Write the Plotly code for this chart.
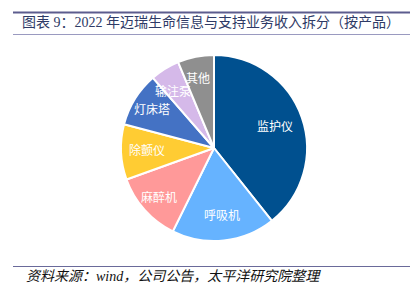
import math
import plotly.graph_objects as go

categories = ["监护仪", "呼吸机", "麻醉机", "除颤仪", "灯床塔", "输注泵", "其他"]
values = [39.3, 18.0, 12.2, 9.6, 9.5, 5.1, 6.3]
colors = ["#00508F", "#66B3FF", "#FF9999", "#FFCC33", "#4472C4", "#D5B9E9", "#8F8F8F"]
title_text = "图表 9：2022 年迈瑞生命信息与支持业务收入拆分（按产品）"
source_text = "资料来源：wind，公司公告，太平洋研究院整理"

W, H = 416, 297
cx, cy, R = 214, 148, 93
label_r = [0.70, 0.83, 0.80, 0.72, 0.78, 0.84, 0.86]

FONT = "Liberation Serif, Noto Sans CJK SC, serif"

fig = go.Figure(go.Pie(
    labels=categories, values=values, sort=False, direction="clockwise",
    rotation=0, marker=dict(colors=colors, line=dict(color="white", width=2)),
    textinfo="none", hoverinfo="label+percent", showlegend=False,
    domain=dict(x=[(cx - R) / W, (cx + R) / W], y=[(H - cy - R) / H, (H - cy + R) / H]),
))

total = sum(values)
acc = 0.0
annotations = []
for name, v, lr in zip(categories, values, label_r):
    mid = (acc + v / 2) / total * 2 * math.pi
    acc += v
    px = cx + lr * R * math.sin(mid)
    py = cy - lr * R * math.cos(mid)
    annotations.append(dict(x=px / W, y=1 - py / H, xref="paper", yref="paper",
                            text=name, showarrow=False,
                            font=dict(family=FONT, size=12, color="white")))

annotations.append(dict(x=211 / W, y=1 - 22 / H, xref="paper", yref="paper", xanchor="center",
                        yanchor="middle", text=title_text, showarrow=False,
                        font=dict(family=FONT, size=14, color="#2E3A66")))
annotations.append(dict(x=24 / W, y=1 - 276 / H, xref="paper", yref="paper", xanchor="left",
                        yanchor="middle", text=source_text, showarrow=False,
                        font=dict(family=FONT, size=14, color="#111111", style="italic")))

shapes = [
    dict(type="line", xref="paper", yref="paper", x0=13 / W, x1=410 / W, y0=1 - 12.5 / H, y1=1 - 12.5 / H,
         line=dict(color="#5C5C8E", width=2)),
    dict(type="line", xref="paper", yref="paper", x0=13 / W, x1=410 / W, y0=1 - 34.5 / H, y1=1 - 34.5 / H,
         line=dict(color="#9A9AC0", width=1)),
    dict(type="line", xref="paper", yref="paper", x0=13 / W, x1=410 / W, y0=1 - 266.5 / H, y1=1 - 266.5 / H,
         line=dict(color="#6A6A9A", width=1)),
]

fig.update_layout(width=W, height=H, margin=dict(l=0, r=0, t=0, b=0),
                  paper_bgcolor="white", plot_bgcolor="white",
                  annotations=annotations, shapes=shapes)
fig.write_html("out.html")
